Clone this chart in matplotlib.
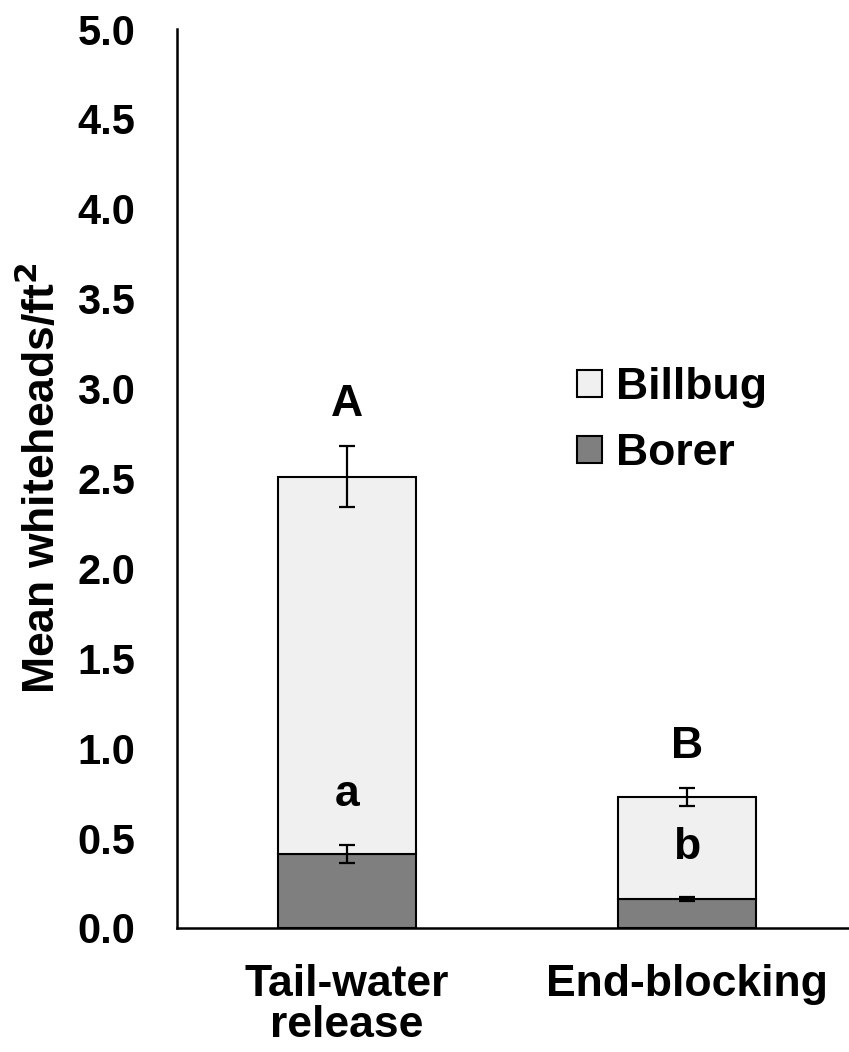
import matplotlib
matplotlib.use('Agg')
import matplotlib.pyplot as plt
import numpy as np

plt.rcParams['font.family'] = ['Liberation Sans', 'DejaVu Sans']
plt.rcParams['font.weight'] = 'bold'

categories = ['Tail-water\nrelease', 'End-blocking']
borer = [0.41, 0.16]
billbug = [2.10, 0.57]
borer_err = [0.05, 0.01]
total_err = [0.17, 0.05]
upper_letters = ['A', 'B']
lower_letters = ['a', 'b']

fig = plt.figure(figsize=(8.49, 10.52), dpi=100)
ax = fig.add_axes([0.2085, 0.1179, 0.7915, 0.8545])

x = np.arange(len(categories))
width = 0.406
totals = np.array(borer) + np.array(billbug)

ax.bar(x, borer, width, color='#7f7f7f', edgecolor='black', linewidth=1.5,
       label='Borer', zorder=2)
ax.bar(x, billbug, width, bottom=borer, color='#f0f0f0', edgecolor='black',
       linewidth=1.5, label='Billbug', zorder=2)

err_kw = dict(fmt='none', ecolor='black', elinewidth=1.6, capsize=6, capthick=1.6, zorder=3)
ax.errorbar(x, borer, yerr=borer_err, **err_kw)
ax.errorbar(x, totals, yerr=total_err, **err_kw)

for i in range(len(x)):
    ax.text(x[i], totals[i] + total_err[i] + 0.23, upper_letters[i],
            ha='center', va='center', fontsize=32, fontweight='bold')
    ax.text(x[i], borer[i] + borer_err[i] + 0.28, lower_letters[i],
            ha='center', va='center', fontsize=32, fontweight='bold')

ax.set_xlim(-0.5, 1.476)
ax.set_ylim(0, 5)
ax.set_yticks(np.arange(0, 5.01, 0.5))
ax.set_yticklabels([f'{v:.1f}' for v in np.arange(0, 5.01, 0.5)])
ax.set_xticks(x)
ax.set_xticklabels(categories, linespacing=1.0)
ax.tick_params(axis='y', length=0, pad=30, labelsize=30)
ax.tick_params(axis='x', length=0, pad=26, labelsize=32)
for lab in ax.get_xticklabels() + ax.get_yticklabels():
    lab.set_fontweight('bold')

ax.set_ylabel('Mean whiteheads/ft$^\\mathbf{2}$', fontsize=32, fontweight='bold', labelpad=10)

for s in ['top', 'right']:
    ax.spines[s].set_visible(False)
for s in ['left', 'bottom']:
    ax.spines[s].set_linewidth(1.8)

handles, labels = ax.get_legend_handles_labels()
leg = fig.legend(handles[::-1], labels[::-1], loc='upper left',
                 bbox_to_anchor=(577 / 849, 1 - 367 / 1052), frameon=False,
                 fontsize=32, handlelength=0.57, handleheight=0.57,
                 handletextpad=0.3, labelspacing=0.56, borderpad=0, borderaxespad=0)
for t in leg.get_texts():
    t.set_fontweight('bold')

fig.savefig('out.png', dpi=100)
